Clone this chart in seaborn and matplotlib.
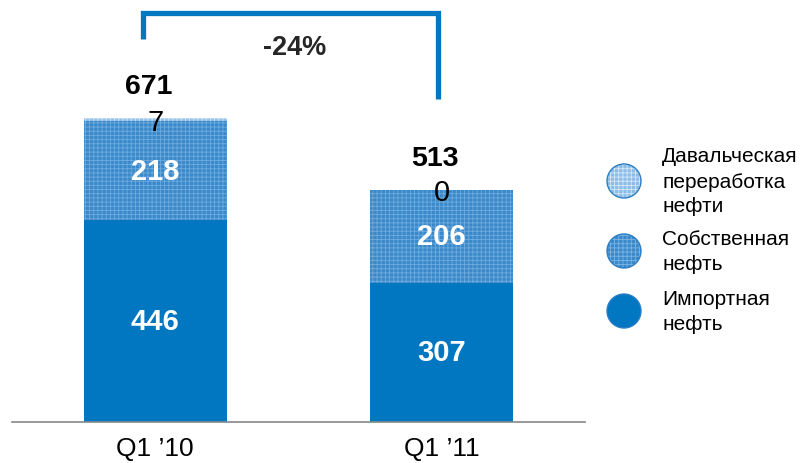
import matplotlib
matplotlib.use("Agg")
import matplotlib.pyplot as plt
import seaborn as sns
import pandas as pd
from matplotlib.patches import Circle

categories = ["Q1 \u201910", "Q1 \u201911"]
imported = [446, 307]
own = [218, 206]
tolling = [7, 0]
series_names = ["Давальческая\nпереработка\nнефти", "Собственная\nнефть", "Импортная\nнефть"]

sns.set_theme(style="white")
plt.rcParams["font.family"] = ["Liberation Sans", "DejaVu Sans"]
plt.rcParams["hatch.linewidth"] = 0.6

BLUE = "#0077C0"
MID = "#3A8ACB"
LIGHT = "#8DBDE6"

fig = plt.figure(figsize=(8.01, 4.64), dpi=100)
W, H = 801, 464
ax = fig.add_axes([12 / W, (H - 423) / H, (585 - 12) / W, 423 / H])

totals = [a + b + c for a, b, c in zip(imported, own, tolling)]
mid_cum = [a + b for a, b in zip(imported, own)]
df = pd.DataFrame({"cat": categories, "total": totals, "mid": mid_cum, "imp": imported})

sns.barplot(data=df, x="cat", y="total", color=LIGHT, width=0.5, ax=ax,
            hatch="++++", edgecolor="#CFE3F5", linewidth=0, saturation=1)
sns.barplot(data=df, x="cat", y="mid", color=MID, width=0.5, ax=ax,
            hatch="++++", edgecolor="#6FAADC", linewidth=0, saturation=1)
sns.barplot(data=df, x="cat", y="imp", color=BLUE, width=0.5, ax=ax,
            linewidth=0, saturation=1)

ax.set_xlim(-0.5, 1.5)
ax.set_ylim(0, 934)
for s in ["top", "left", "right"]:
    ax.spines[s].set_visible(False)
ax.spines["bottom"].set_color("#888888")
ax.spines["bottom"].set_linewidth(1.2)
ax.set_yticks([])
ax.set_xlabel("")
ax.set_ylabel("")
ax.set_xticks(range(len(categories)))
ax.set_xticklabels(categories, fontsize=19, color="black")
ax.tick_params(axis="x", which="major", length=0, pad=10)
ax.set_xticks([-0.5, 0.5, 1.5], minor=True)
ax.tick_params(axis="x", which="minor", length=7, width=1.2, color="#888888", direction="out")

for i in range(len(categories)):
    ax.text(i, imported[i] / 2, str(imported[i]), ha="center", va="center",
            color="white", fontsize=21, fontweight="bold")
    ax.text(i, imported[i] + own[i] / 2, str(own[i]), ha="center", va="center",
            color="white", fontsize=21, fontweight="bold")
    ax.text(i, imported[i] + own[i] + tolling[i] / 2 - 5, str(tolling[i]), ha="center",
            va="center", color="black", fontsize=21)
    ax.text(i - 0.023, totals[i] + 70, str(totals[i]), ha="center", va="center",
            color="black", fontsize=20.5, fontweight="bold")

# change bracket
ax.plot([-0.043, -0.043, 0.987, 0.987], [845, 903, 903, 713], color=BLUE,
        lw=3.8, solid_capstyle="butt", solid_joinstyle="miter", clip_on=False)
pct = round((totals[1] - totals[0]) / totals[0] * 100)
ax.text(0.488, 828, f"{pct}%", ha="center", va="center", fontsize=19.5, fontweight="bold")

# legend
leg_y = [182, 252, 312]
leg_style = [(LIGHT, "++++", "#D5E8F7"), (MID, "++++", "#7DB3E0"), (BLUE, None, BLUE)]
for (fc, hatch, ec), y, name in zip(leg_style, leg_y, series_names):
    c = Circle((624 / 100, (H - y) / 100), 0.17, transform=fig.dpi_scale_trans,
               facecolor=fc, hatch=hatch, edgecolor=ec, linewidth=0)
    fig.add_artist(c)
    c2 = Circle((624 / 100, (H - y) / 100), 0.17, transform=fig.dpi_scale_trans,
                facecolor="none", edgecolor="#2C7FC4", linewidth=1.0)
    fig.add_artist(c2)
    fig.text(662 / W, (H - y) / H, name, ha="left", va="center", fontsize=15,
             linespacing=1.4, color="black")

fig.savefig("out.png", dpi=100)
